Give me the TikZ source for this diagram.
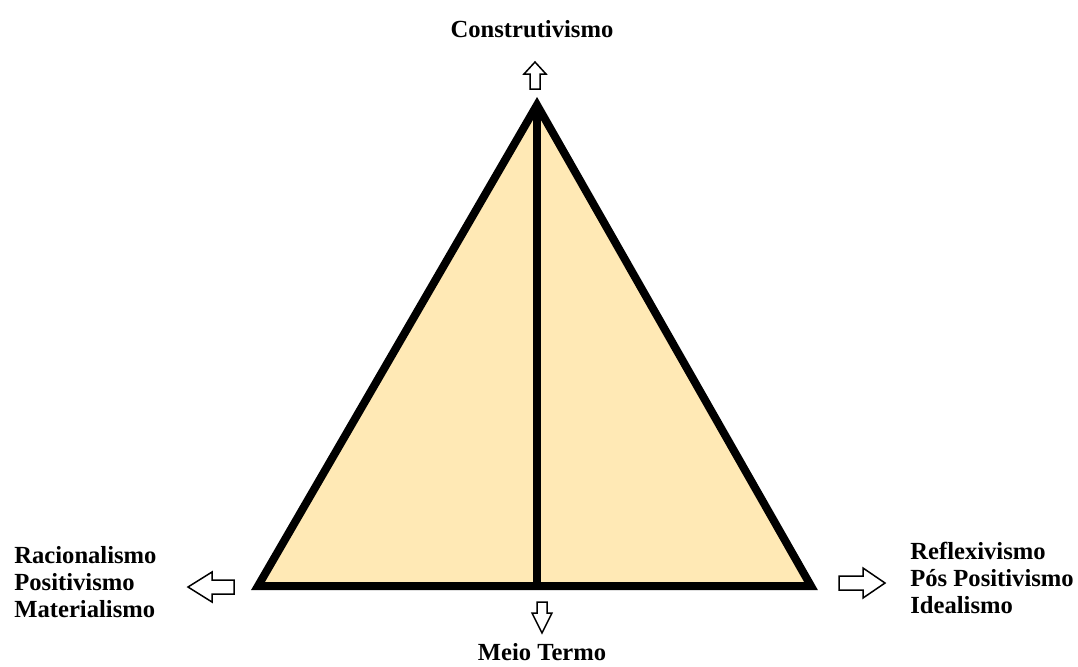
\documentclass[tikz,border=0pt]{standalone}
\usepackage{fontspec}
\setmainfont{Liberation Serif}
\usepackage{tikz}
\definecolor{tanfill}{HTML}{FFE9B5}

\begin{document}
\begin{tikzpicture}[x=0.5pt,y=-0.5pt,
  tri/.style={line width=4pt,line join=miter,draw=black},
  harrow/.style={draw=black,fill=white,line width=0.75pt,line join=miter},
  lbl/.style={font=\fontsize{12.3}{13.6}\selectfont\bfseries,inner sep=0pt,align=left}]
\useasboundingbox (0,0) rectangle (1078,666);
% --- triangle ---
\coordinate (apex) at (537,105);
\coordinate (bl) at (258,586);
\coordinate (br) at (811,586);
\coordinate (mid) at (537,586);
\filldraw[tri,fill=tanfill] (apex) -- (bl) -- (br) -- cycle;
\draw[tri] (apex) -- (mid);
% --- labels ---
\node[lbl,anchor=base] (top) at (532,37) {Construtivismo};
\node[lbl,anchor=base] (bottom) at (542,660) {Meio Termo};
\node[lbl,anchor=west] (left) at (14,582) {Racionalismo\\Positivismo\\Materialismo};
\node[lbl,anchor=west] (right) at (910,578) {Reflexivismo\\Pós Positivismo\\Idealismo};
% --- hollow arrows ---
\coordinate (uptip) at (535,62);
\coordinate (lefttip) at (188,587);
\coordinate (righttip) at (885,583);
\coordinate (downtip) at (542,633);
\draw[harrow] (uptip) -- ++(11,12) -- ++(-6,0) -- ++(0,15) -- ++(-10,0) -- ++(0,-15) -- ++(-6,0) -- cycle;
\draw[harrow] (lefttip) -- ++(24,-15) -- ++(0,8) -- ++(22,0) -- ++(0,14) -- ++(-22,0) -- ++(0,8) -- cycle;
\draw[harrow] (righttip) -- ++(-22,-15) -- ++(0,8) -- ++(-24,0) -- ++(0,14) -- ++(24,0) -- ++(0,8) -- cycle;
\draw[harrow] (downtip) -- ++(10,-20) -- ++(-5,0) -- ++(0,-11) -- ++(-10,0) -- ++(0,11) -- ++(-5,0) -- cycle;
\end{tikzpicture}
\end{document}
